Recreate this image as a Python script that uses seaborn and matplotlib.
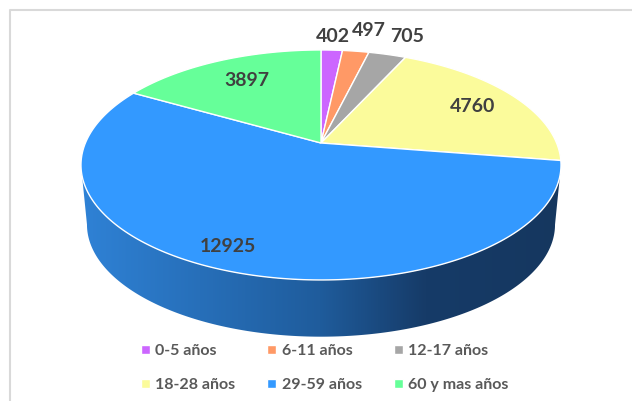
import numpy as np
import matplotlib
matplotlib.use("Agg")
import matplotlib.pyplot as plt
from matplotlib.colors import LinearSegmentedColormap
from matplotlib.patches import Polygon
import seaborn as sns

categories = ["0-5 años", "6-11 años", "12-17 años", "18-28 años", "29-59 años", "60 y mas años"]
values = [402, 497, 705, 4760, 12925, 3897]
hex_colors = ["#CC66FF", "#FF9966", "#A6A6A6", "#FBFB9B", "#3399FF", "#66FF99"]

# pixel place of each value label, same order as values
label_xy = [(333, 37), (369, 30), (407, 36), (473, 107), (228, 247), (247, 80)]

# perspective of the tilted disc, worked out from the picture
CX, CY = 321, 143
A, B, K = 235.6, 110.8, 0.191
DEPTH, SHRINK = 59.6, 0.975


def project(theta, depth=0.0, scale=1.0):
    """Map a clockwise pie angle (matplotlib degrees) to pixels."""
    u, v = np.cos(theta), np.sin(theta)
    w = 1 + K * v
    x = A * u / w
    y = -B * v / w
    # the lower rim is the same ellipse a bit smaller, pushed down
    mid = B * K / (1 - K * K)
    return CX + scale * x, CY + mid + scale * (y - mid) + depth


sns.set_theme(style="white")
plt.rcParams["font.family"] = ["Lato", "DejaVu Sans"]
palette = sns.color_palette(hex_colors)

fig = plt.figure(figsize=(6.32, 4.01), dpi=100)
ax = fig.add_axes([0, 0, 1, 1])
wedges, _ = ax.pie(values, colors=palette, startangle=90, counterclock=False)

# legend fills by column, so reorder to read row by row
order = [0, 3, 1, 4, 2, 5]
ax.legend([wedges[i] for i in order], [categories[i] for i in order],
          ncol=3, loc="upper left", bbox_to_anchor=(141, 344), bbox_transform=ax.transData,
          frameon=False, borderpad=0, borderaxespad=0, handlelength=0.55, handleheight=0.55,
          handletextpad=0.35, columnspacing=2.0, labelspacing=1.27,
          prop={"size": 11.5, "weight": "bold"}, labelcolor="#595959")

ax.set_aspect("auto")
ax.axis("off")

# side wall: front rim between the widest points of the top and lower ellipses
edge = np.degrees(np.arcsin(K))
rim = np.radians(np.linspace(180 + edge, 360 - edge, 300))
top_x, top_y = project(rim)
low_x, low_y = project(rim, DEPTH, SHRINK)
wall = Polygon(np.column_stack([np.r_[top_x, low_x[::-1]], np.r_[top_y, low_y[::-1]]]),
               closed=True, facecolor="none", edgecolor="none")
ax.add_patch(wall)
wall_cmap = LinearSegmentedColormap.from_list(
    "wall", [(0, "#2F82D6"), (0.5, "#1F5C9C"), (0.72, "#163B68"), (1, "#15375F")])
shade = ax.imshow(np.linspace(0, 1, 256)[None, :], cmap=wall_cmap, aspect="auto",
                  extent=(80, 560, 345, 150), zorder=1)
shade.set_clip_path(wall)
ax.set_xlim(0, 632)
ax.set_ylim(401, 0)

# top face: one polygon per wedge, angles as computed by pie
for w, color in zip(wedges, palette):
    arc = np.radians(np.linspace(w.theta1, w.theta2, 200))
    x, y = project(arc)
    ax.add_patch(Polygon(np.column_stack([np.r_[CX, x], np.r_[CY, y]]), closed=True,
                         facecolor=color, edgecolor="white", linewidth=1.0, zorder=2))
    w.remove()

for value, (x, y) in zip(values, label_xy):
    ax.text(x, y, str(value), ha="center", va="center", fontsize=14, fontweight="bold",
            color="#404040", zorder=3)

# chart frame, cut off at the right and bottom of the picture
ax.plot([10, 10, 632], [401, 10, 10], color="#D9D9D9", linewidth=1.5, zorder=0, clip_on=True)

fig.savefig("out.png", dpi=100)
